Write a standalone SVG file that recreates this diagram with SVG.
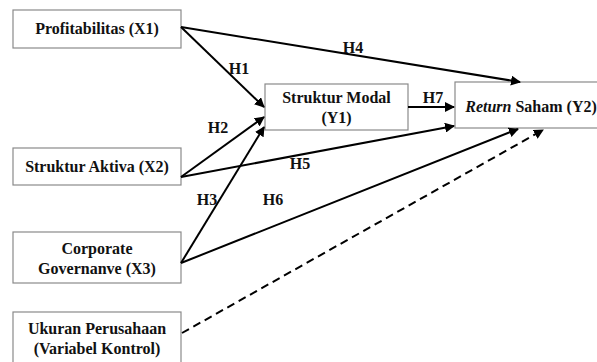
<svg xmlns="http://www.w3.org/2000/svg" width="597" height="362" viewBox="0 0 597 362">
<style>
.box{fill:#fff;stroke:#8a8a8a;stroke-width:1.2}
.t{font-family:"Liberation Serif","Times New Roman",serif;font-weight:bold;font-size:16px;fill:#111;text-anchor:middle}
.c{fill:none;stroke:#000;stroke-width:2}
.d{fill:none;stroke:#000;stroke-width:2;stroke-dasharray:8,5}
</style>
<defs>
<marker id="ah" viewBox="0 0 10 10" refX="9" refY="5" markerWidth="10" markerHeight="10" markerUnits="userSpaceOnUse" orient="auto">
<path d="M0,0 L10,5 L0,10 z" fill="#000"/>
</marker>
</defs>
<rect width="597" height="362" fill="#fff"/>
<g id="x1"><rect class="box" x="13" y="10" width="168" height="38"/><text class="t" x="97" y="34">Profitabilitas (X1)</text></g>
<g id="x2"><rect class="box" x="13" y="148" width="168" height="37"/><text class="t" x="97" y="171.5">Struktur Aktiva (X2)</text></g>
<g id="x3"><rect class="box" x="13" y="232" width="168" height="51"/><text class="t" x="97" y="254">Corporate</text><text class="t" x="97" y="273.5">Governanve (X3)</text></g>
<g id="ctrl"><rect class="box" x="13" y="312" width="168" height="52"/><text class="t" x="97" y="334">Ukuran Perusahaan</text><text class="t" x="97" y="353.5">(Variabel Kontrol)</text></g>
<g id="y1"><rect class="box" x="265" y="84" width="143" height="46"/><text class="t" x="336.5" y="103">Struktur Modal</text><text class="t" x="336.5" y="122.5">(Y1)</text></g>
<g id="y2"><rect class="box" x="455" y="82" width="150" height="46"/><text class="t" x="531" y="112"><tspan font-style="italic">Return</tspan> Saham (Y2)</text></g>
<g id="connectors">
<line class="c" x1="181" y1="27" x2="520" y2="82" marker-end="url(#ah)"/>
<line class="c" x1="181" y1="27" x2="264" y2="107" marker-end="url(#ah)"/>
<line class="c" x1="181" y1="177" x2="264" y2="117" marker-end="url(#ah)"/>
<line class="c" x1="181" y1="263" x2="264" y2="127" marker-end="url(#ah)"/>
<line class="c" x1="181" y1="177" x2="454" y2="126" marker-end="url(#ah)"/>
<line class="c" x1="181" y1="263" x2="518" y2="129" marker-end="url(#ah)"/>
<line class="c" x1="408" y1="107" x2="454" y2="107" stroke-width="2.5" marker-end="url(#ah)"/>
<line class="d" x1="182" y1="333" x2="543" y2="130" marker-end="url(#ah)"/>
</g>
<g id="labels">
<text class="t" x="239" y="74">H1</text>
<text class="t" x="218" y="133">H2</text>
<text class="t" x="207" y="205">H3</text>
<text class="t" x="353" y="53">H4</text>
<text class="t" x="300" y="169">H5</text>
<text class="t" x="273" y="205">H6</text>
<text class="t" x="433" y="103">H7</text>
</g>
</svg>
